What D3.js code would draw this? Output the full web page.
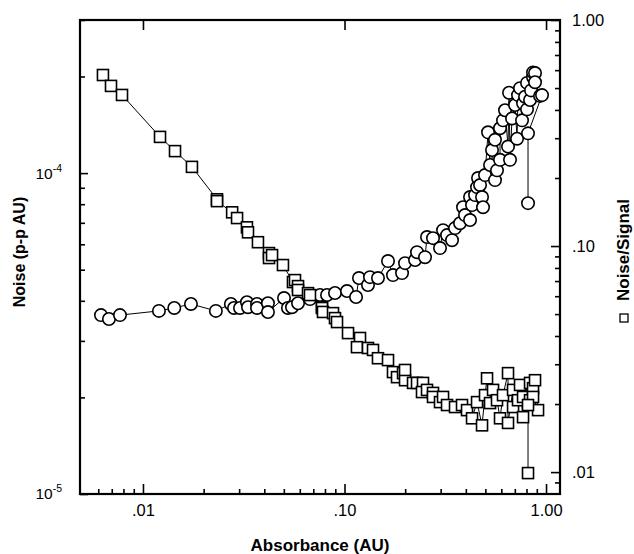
<!DOCTYPE html>
<html>
<head>
<meta charset="utf-8">
<script src="https://cdn.jsdelivr.net/npm/d3@7"></script>
<style>
  html, body { margin: 0; padding: 0; background: #fff; }
  svg { display: block; }
  text { font-family: "Liberation Sans", Arial, Helvetica, sans-serif; fill: #000; }
</style>
</head>
<body>
<svg id="chart" width="634" height="554"></svg>
<script>
// Peak-to-peak noise (left axis) versus absorbance
const noiseAbs = [
  0.00619, 0.00678, 0.00769, 0.0120, 0.0143, 0.0173, 0.0230, 0.0273, 0.0283, 0.0303,
  0.0328, 0.0332, 0.0368, 0.0368, 0.0417, 0.0417, 0.0501, 0.0524, 0.0549, 0.0588,
  0.0674, 0.0756, 0.0819, 0.0897, 0.1029, 0.1141, 0.1180, 0.1308, 0.1338, 0.1466,
  0.1644, 0.1740, 0.1930, 0.1997, 0.2239, 0.2290, 0.2509, 0.2567, 0.2749, 0.2978,
  0.3083, 0.3227, 0.3416, 0.3535, 0.3743, 0.3874, 0.3963, 0.4197, 0.4197, 0.4294,
  0.4444, 0.4546, 0.4598, 0.4705, 0.4813, 0.4868, 0.4980, 0.5155, 0.5274, 0.5395,
  0.5582, 0.5582, 0.5711, 0.5911, 0.5911, 0.6116, 0.6259, 0.6477, 0.6553, 0.6627,
  0.6781, 0.7019, 0.7181, 0.7261, 0.7430, 0.7602, 0.7690, 0.7869, 0.8049, 0.8049,
  0.8330, 0.8424, 0.8620, 0.8620, 0.8818, 0.8818, 0.9337, 0.9552, 0.8140, 0.8140
];
const noiseVals = [
  3.61e-5, 3.51e-5, 3.61e-5, 3.72e-5, 3.80e-5, 3.91e-5, 3.72e-5, 3.91e-5, 3.80e-5, 3.80e-5,
  3.96e-5, 3.82e-5, 3.91e-5, 3.80e-5, 3.93e-5, 3.69e-5, 4.08e-5, 3.80e-5, 3.82e-5, 3.93e-5,
  4.05e-5, 4.17e-5, 4.17e-5, 4.23e-5, 4.29e-5, 4.11e-5, 4.71e-5, 4.48e-5, 4.74e-5, 4.71e-5,
  5.32e-5, 4.81e-5, 4.88e-5, 5.24e-5, 5.36e-5, 5.67e-5, 5.47e-5, 6.32e-5, 6.27e-5, 5.84e-5,
  6.64e-5, 6.41e-5, 6.18e-5, 6.74e-5, 6.98e-5, 7.83e-5, 7.40e-5, 7.14e-5, 8.42e-5, 7.95e-5,
  8.54e-5, 9.04e-5, 9.65e-5, 9.18e-5, 8.42e-5, 7.83e-5, 9.86e-5, 1.34e-4, 1.06e-4, 1.18e-4,
  9.51e-5, 1.27e-4, 1.02e-4, 1.10e-4, 1.38e-4, 1.46e-4, 1.57e-4, 1.21e-4, 1.78e-4, 1.10e-4,
  1.48e-4, 1.63e-4, 1.28e-4, 1.75e-4, 1.84e-4, 1.46e-4, 1.65e-4, 1.73e-4, 1.58e-4, 1.91e-4,
  1.69e-4, 1.81e-4, 1.99e-4, 2.06e-4, 2.05e-4, 1.92e-4, 1.74e-4, 1.75e-4, 1.33e-4, 8.06e-5
];

// Noise/Signal ratio (right axis) versus absorbance
const ratioAbs = [
  0.00633, 0.00694, 0.00787, 0.01215, 0.01442, 0.0175, 0.0233, 0.0233, 0.0277, 0.0293,
  0.0328, 0.0332, 0.0372, 0.0422, 0.0422, 0.0437, 0.0495, 0.0555, 0.0568, 0.0588,
  0.0588, 0.0659, 0.0674, 0.0773, 0.0773, 0.0782, 0.0877, 0.0897, 0.0918, 0.1041,
  0.1194, 0.1153, 0.1308, 0.1385, 0.1466, 0.1644, 0.1740, 0.1822, 0.1952, 0.1997,
  0.1997, 0.2188, 0.2290, 0.2452, 0.2424, 0.2567, 0.2749, 0.2749, 0.2978, 0.3083,
  0.3227, 0.3535, 0.3829, 0.4055, 0.4294, 0.4546, 0.4813, 0.4980, 0.5096, 0.5274,
  0.5458, 0.5711, 0.5911, 0.6116, 0.6477, 0.6477, 0.6860, 0.6860, 0.7261, 0.7430,
  0.7690, 0.7690, 0.8330, 0.8330, 0.8620, 0.8620, 0.8818, 0.9127, 0.8140, 0.8140
];
const ratioVals = [
  0.571, 0.511, 0.466, 0.304, 0.263, 0.224, 0.161, 0.158, 0.141, 0.133,
  0.121, 0.115, 0.104, 0.0931, 0.0885, 0.0912, 0.0824, 0.0693, 0.0707, 0.0665,
  0.0639, 0.0619, 0.0607, 0.0537, 0.0532, 0.0511, 0.0505, 0.0480, 0.0461, 0.0412,
  0.0392, 0.0357, 0.0354, 0.0347, 0.0319, 0.0313, 0.0277, 0.0263, 0.0274, 0.0255,
  0.0283, 0.0248, 0.0248, 0.0248, 0.0226, 0.0231, 0.0224, 0.0215, 0.0204, 0.0215,
  0.0198, 0.0194, 0.0198, 0.0188, 0.0173, 0.0204, 0.0161, 0.0219, 0.0260, 0.0202,
  0.0231, 0.0208, 0.0173, 0.0219, 0.0274, 0.0165, 0.0231, 0.0194, 0.0208, 0.0243,
  0.0175, 0.0215, 0.0248, 0.0208, 0.0235, 0.0215, 0.0255, 0.0188, 0.0198, 0.0099
];

// Axis ticks
const xMajor = [0.01, 0.1, 1];
const xMajorLabels = [".01", ".10", "1.00"];
const xMinor = [0.006, 0.007, 0.008, 0.009, 0.02, 0.03, 0.04, 0.05, 0.06, 0.07, 0.08, 0.09,
                0.2, 0.3, 0.4, 0.5, 0.6, 0.7, 0.8, 0.9];
const leftMajor = [1e-5, 1e-4];
const leftMajorExp = ["-5", "-4"];
const leftMinor = [2e-5, 3e-5, 4e-5, 5e-5, 6e-5, 7e-5, 8e-5, 9e-5, 2e-4, 3e-4];
const rightMajor = [0.01, 0.1, 1];
const rightMajorLabels = [".01", ".10", "1.00"];
const rightMinor = [0.009, 0.02, 0.03, 0.04, 0.05, 0.06, 0.07, 0.08, 0.09,
                    0.2, 0.3, 0.4, 0.5, 0.6, 0.7, 0.8, 0.9];

const svg = d3.select("#chart");
const plotL = 80, plotR = 560, plotT = 20, plotB = 494;

const x = d3.scaleLog().domain([0.00487, 1.173]).range([plotL, plotR]);
const yL = d3.scaleLog().domain([1e-5, 3e-4]).range([plotB, plotT]);
const yR = d3.scaleLog().domain([0.008, 1]).range([plotB, plotT]);

const tickFont = 16.5;

function styleAxis(g) {
  g.select(".domain").remove();
  g.selectAll(".tick line").attr("stroke", "#000").attr("stroke-width", 1.6);
  g.selectAll(".tick text").attr("font-size", tickFont).attr("fill", "#000")
    .attr("font-family", "'Liberation Sans', Arial, sans-serif");
}

// Bottom axis
svg.append("g").attr("transform", `translate(0,${plotB})`)
  .call(d3.axisBottom(x).tickValues(xMinor).tickSize(-5).tickFormat(""))
  .call(styleAxis);
svg.append("g").attr("transform", `translate(0,${plotB})`)
  .call(d3.axisBottom(x).tickValues(xMajor).tickSize(-10).tickPadding(10)
    .tickFormat((d, i) => xMajorLabels[i]))
  .call(styleAxis);

// Top axis (major ticks only)
svg.append("g").attr("transform", `translate(0,${plotT})`)
  .call(d3.axisTop(x).tickValues(xMajor).tickSize(-10).tickFormat(""))
  .call(styleAxis);

// Left axis
svg.append("g").attr("transform", `translate(${plotL},0)`)
  .call(d3.axisLeft(yL).tickValues(leftMinor).tickSize(-5).tickFormat(""))
  .call(styleAxis);
const leftAxis = svg.append("g").attr("transform", `translate(${plotL},0)`)
  .call(d3.axisLeft(yL).tickValues(leftMajor).tickSize(-8).tickPadding(18).tickFormat(() => ""))
  .call(styleAxis);
leftAxis.selectAll(".tick text").each(function(d, i) {
  const t = d3.select(this);
  t.text(null).attr("font-size", 15.5);
  t.append("tspan").text("10");
  t.append("tspan").attr("font-size", 10.5).attr("dy", -7).text(leftMajorExp[i]);
});

// Right axis
svg.append("g").attr("transform", `translate(${plotR},0)`)
  .call(d3.axisRight(yR).tickValues(rightMinor).tickSize(-5).tickFormat(""))
  .call(styleAxis);
svg.append("g").attr("transform", `translate(${plotR},0)`)
  .call(d3.axisRight(yR).tickValues(rightMajor).tickSize(-9).tickPadding(12)
    .tickFormat((d, i) => rightMajorLabels[i]))
  .call(styleAxis);

// Frame
svg.append("rect")
  .attr("x", plotL).attr("y", plotT)
  .attr("width", plotR - plotL).attr("height", plotB - plotT)
  .attr("fill", "none").attr("stroke", "#000").attr("stroke-width", 2.2);

// Series
const noiseData = noiseAbs.map((a, i) => [a, noiseVals[i]]);
const ratioData = ratioAbs.map((a, i) => [a, ratioVals[i]]);

const plot = svg.append("g");

plot.append("path").datum(noiseData)
  .attr("fill", "none").attr("stroke", "#000").attr("stroke-width", 1)
  .attr("d", d3.line().x(d => x(d[0])).y(d => yL(d[1])));
plot.append("g").selectAll("circle").data(noiseData).join("circle")
  .attr("cx", d => x(d[0])).attr("cy", d => yL(d[1])).attr("r", 6.2)
  .attr("fill", "#fff").attr("stroke", "#000").attr("stroke-width", 1.6);

plot.append("path").datum(ratioData)
  .attr("fill", "none").attr("stroke", "#000").attr("stroke-width", 1)
  .attr("d", d3.line().x(d => x(d[0])).y(d => yR(d[1])));
const sq = 11;
plot.append("g").selectAll("rect").data(ratioData).join("rect")
  .attr("x", d => x(d[0]) - sq / 2).attr("y", d => yR(d[1]) - sq / 2)
  .attr("width", sq).attr("height", sq)
  .attr("fill", "#fff").attr("stroke", "#000").attr("stroke-width", 1.6);

// Axis titles
svg.append("text")
  .attr("x", (plotL + plotR) / 2).attr("y", 551)
  .attr("text-anchor", "middle").attr("font-weight", "bold").attr("font-size", 17)
  .text("Absorbance (AU)");

svg.append("text")
  .attr("transform", "translate(25,252) rotate(-90)")
  .attr("text-anchor", "middle").attr("font-weight", "bold").attr("font-size", 16)
  .text("Noise (p-p AU)");

svg.append("text")
  .attr("transform", "translate(629,250) rotate(-90)")
  .attr("text-anchor", "middle").attr("font-weight", "bold").attr("font-size", 17)
  .text("Noise/Signal");

// Legend marker for the ratio series
svg.append("rect")
  .attr("x", 620).attr("y", 314).attr("width", 8).attr("height", 8)
  .attr("fill", "#fff").attr("stroke", "#000").attr("stroke-width", 1.3);
</script>
</body>
</html>
